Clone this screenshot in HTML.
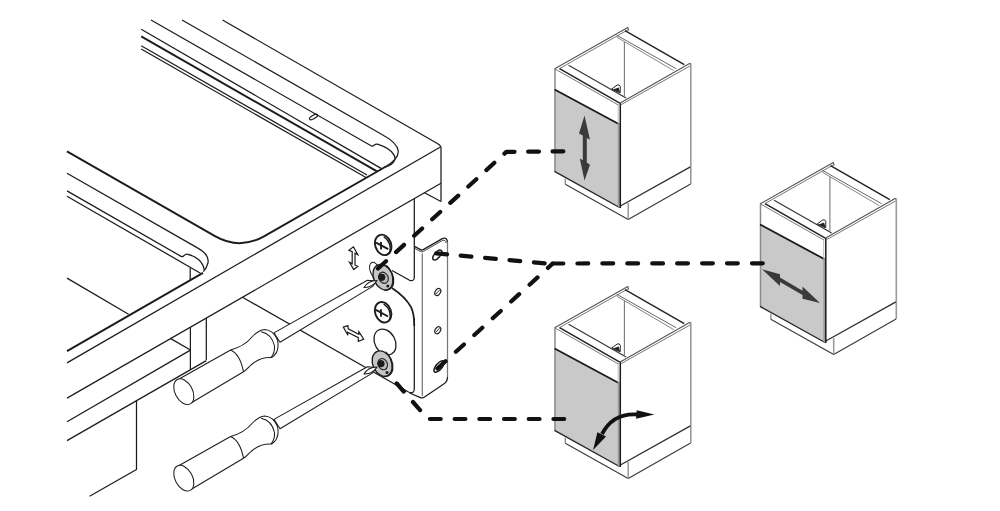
<!DOCTYPE html>
<html><head><meta charset="utf-8"><style>
html,body{margin:0;padding:0;background:#fff;width:1000px;height:511px;overflow:hidden;font-family:"Liberation Sans",sans-serif;}
svg{display:block}
</style></head><body>
<svg width="1000" height="511" viewBox="0 0 1000 511">
<rect width="1000" height="511" fill="#fff"/>
<g stroke="#1c1c1c" fill="none" stroke-width="1.25" stroke-linecap="butt" stroke-linejoin="round">
<path d="M222.5,20 L437.8,143.8 Q441,145.5 441,148 L441,201.5"/>
<path d="M440,147.2 L67,362.9"/>
<path d="M441,183.2 L67,398.1"/>
<path d="M424.5,192.8 L441,201.5"/>
<path d="M182,20 L381.5,134.3 Q413.5,151.2 384.5,167.3"/>
<path d="M151,20 L371.5,146 C373.5,147.2 374.5,143.5 377.5,144.2 C394,149.5 402.5,160.5 386,167"/>
<path d="M141.2,29.2 L381.5,168.6"/>
<path d="M141.2,36.3 L377,171.3" stroke-width="1.95"/>
<path d="M141.2,45.8 L367,175"/>
<path d="M141.2,49 L366,177.5"/>
<path d="M386,166.5 L264,236.3 Q239.5,250.1 215,236.1 L67,151.4" stroke-width="1.95"/>
<ellipse cx="313.5" cy="117" rx="4.5" ry="1.7" transform="rotate(-30 313.5 117)"/>
<path d="M67,173.2 L197,247.6 C205.5,252.2 209.5,257.5 207.8,263.5 C206.8,267 205.5,269.5 203.3,271.6"/>
<path d="M67,190.9 L181.5,256.6 C183.5,257.6 184,254 187,254.2 C196,256 203,261.5 204.2,269.8"/>
<path d="M67,196.3 L200.5,273.2"/>
<path d="M190.2,268 L190.2,280"/>
<path d="M203,272.8 L67,351.1" stroke-width="1.95"/>
<path d="M67,278.1 L128.6,314.3"/>
<path d="M190.4,327 L190.4,369"/>
<path d="M206.3,318 L206.3,360"/>
<path d="M67,440.6 L206.3,360.6"/>
<path d="M67,421.8 L190.4,350.1"/>
<path d="M170.3,338.4 L190.4,350"/>
<path d="M136.5,401 L136.5,469.5 L89.6,496.3"/>
<path d="M414.3,199 L414.3,277 Q414.3,281.5 410,280.5 L392,270.5"/>
<path d="M242.4,297.2 L408.5,392 Q414.3,394.5 414.3,388.5 L414.3,318"/>
<path d="M414.3,326 C414.3,316 413.5,312 411,307 C407,300 398,292 392,288" stroke-width="1.7"/>
<path d="M414.5,246.4 L420.5,249.6 Q421.8,250.4 423.2,249.6 L442.3,238.6 Q447.5,236.5 447.5,243"/>
<path d="M447.5,242 L447.5,377" stroke="#777"/>
<path d="M422.3,253.5 L422.3,396" stroke="#777"/>
<path d="M447.5,377 Q447.5,382 443,384.5 L424.5,397 Q422.5,398.4 420.5,397.6 L409.5,393"/>
<path d="M414.5,248.3 L420.5,251.5 Q421.8,252.3 423.2,251.5 L442.3,240.5 Q445.8,239.5 446,243" stroke-width="0.8"/>
</g>
<g fill="#fff" stroke="#1c1c1c" stroke-width="1.2">
<ellipse cx="437.3" cy="255" rx="6" ry="2.8" transform="rotate(-50 437.3 255)" stroke-width="1.5"/>
<ellipse cx="437.8" cy="292" rx="3.8" ry="2.6" transform="rotate(-60 437.8 292)"/>
<ellipse cx="437.8" cy="330.2" rx="3.8" ry="2.6" transform="rotate(-60 437.8 330.2)"/>
<path d="M436,294 L439.5,290 M436,332.2 L439.5,328.2" stroke-width="0.9"/>
<ellipse cx="439" cy="366.5" rx="7" ry="3" transform="rotate(-50 439 366.5)" stroke-width="1.6"/>
</g>
<g transform="translate(383.2 244.9)" stroke="#1c1c1c" fill="#fff"><ellipse cx="0" cy="0" rx="7.9" ry="10.5" transform="rotate(-20)" stroke-width="1.9"/><path d="M0.5,-8.3 Q9.5,-2 6.2,8.2" stroke-width="1.3" fill="none"/><path d="M-7.2,-2.3 L5,4.3 M-2.2,-3 L-2.1,4.6" stroke-width="1.9" fill="none"/></g>
<g transform="translate(383.1 312.2)" stroke="#1c1c1c" fill="#fff"><ellipse cx="0" cy="0" rx="7.9" ry="10.5" transform="rotate(-20)" stroke-width="1.9"/><path d="M0.5,-8.3 Q9.5,-2 6.2,8.2" stroke-width="1.3" fill="none"/><path d="M-7.2,-2.3 L5,4.3 M-2.2,-3 L-2.1,4.6" stroke-width="1.9" fill="none"/></g>
<ellipse cx="385" cy="342" rx="10.2" ry="13.6" transform="rotate(-28 385 342)" fill="#fff" stroke="#1c1c1c" stroke-width="1.3"/>
<ellipse cx="375" cy="270.5" rx="4.8" ry="8.6" transform="rotate(-22 375 270.5)" fill="#fff" stroke="#1c1c1c" stroke-width="1"/>
<g transform="translate(383.3 277.3)" stroke="#1c1c1c"><ellipse cx="0" cy="0" rx="9.6" ry="13.4" transform="rotate(-25)" fill="#c6c6c6" stroke-width="1.4"/><path d="M3,-12 Q10,-6 9.5,5 Q8,13 1,13" fill="none" stroke-width="1.2"/><ellipse cx="0" cy="0.5" rx="4.6" ry="5.8" transform="rotate(-25)" fill="#bcbcbc" stroke="#222" stroke-width="1.1"/><circle cx="-1.5" cy="0" r="3.2" fill="#1c1c1c"/><circle cx="4.5" cy="8.8" r="1.5" fill="#1c1c1c" stroke="none"/></g>
<g transform="translate(382.5 363.7)" stroke="#1c1c1c"><ellipse cx="0" cy="0" rx="9.6" ry="13.4" transform="rotate(-25)" fill="#c6c6c6" stroke-width="1.4"/><path d="M3,-12 Q10,-6 9.5,5 Q8,13 1,13" fill="none" stroke-width="1.2"/><ellipse cx="0" cy="0.5" rx="4.6" ry="5.8" transform="rotate(-25)" fill="#bcbcbc" stroke="#222" stroke-width="1.1"/><circle cx="-1.5" cy="0" r="3.2" fill="#1c1c1c"/><circle cx="4.5" cy="8.8" r="1.5" fill="#1c1c1c" stroke="none"/></g>
<g transform="translate(0 0)" stroke="#1c1c1c" stroke-width="1.05" fill="#fff" stroke-linejoin="round"><path d="M274,332.9 L367.4,280.2 L376.2,281.1 L372.7,286.4 L280,342.3 Z"/><path d="M364,287.5 Q368,280.5 377,280.5 Q372,288 364,287.5 Z" fill="#fff"/><path d="M179.1,379 L230.6,350 C240,347.5 247,343 252,337 C256,332.5 259.5,329.8 264.7,329.4 Q273.5,330 277.5,340 Q280,352 271.7,357.6 C262,357 256,360.5 251,365 C248,368 246,370.5 243.5,371.7 L191.4,402.8 Z"/><path d="M230.6,350 Q240,354 243.5,371.7" fill="none"/><path d="M261.1,331.7 Q272,334 274.5,346 Q275,353 271,357.5" fill="none"/><ellipse cx="183.8" cy="391.7" rx="13.8" ry="8.7" transform="rotate(62 183.8 391.7)"/></g>
<g transform="translate(0 86.5)" stroke="#1c1c1c" stroke-width="1.05" fill="#fff" stroke-linejoin="round"><path d="M274,332.9 L367.4,280.2 L376.2,281.1 L372.7,286.4 L280,342.3 Z"/><path d="M364,287.5 Q368,280.5 377,280.5 Q372,288 364,287.5 Z" fill="#fff"/><path d="M179.1,379 L230.6,350 C240,347.5 247,343 252,337 C256,332.5 259.5,329.8 264.7,329.4 Q273.5,330 277.5,340 Q280,352 271.7,357.6 C262,357 256,360.5 251,365 C248,368 246,370.5 243.5,371.7 L191.4,402.8 Z"/><path d="M230.6,350 Q240,354 243.5,371.7" fill="none"/><path d="M261.1,331.7 Q272,334 274.5,346 Q275,353 271,357.5" fill="none"/><ellipse cx="183.8" cy="391.7" rx="13.8" ry="8.7" transform="rotate(62 183.8 391.7)"/></g>
<path d="M353.4,246.8 L357.8,254.7 L355,253.2 L355,265.2 L357.8,266.4 L353.7,269.5 L349.6,262.3 L352.2,263.8 L352.2,251.6 L348.9,250.3 Z" fill="#fff" stroke="#1c1c1c" stroke-width="1.2" stroke-linejoin="miter"/>
<path d="M343.3,327.1 L347.9,325.6 L348.2,328.8 L358.8,334.2 L358.9,331.7 L363.7,339.3 L358.3,341.4 L358.3,337.6 L347.7,332.3 L347.9,335.3 Z" fill="#fff" stroke="#1c1c1c" stroke-width="1.2" stroke-linejoin="miter"/>

<g class="cab" stroke-linejoin="round" fill="none">
 <polygon points="619,102.5 690.4,63.2 690.4,167 619.5,207.5" fill="#fff" stroke="none"/>
 <polygon points="690.4,167 690.4,184 628.2,219.5 565.3,184.2 565.3,178.8 619.5,207.5" fill="#fff" stroke="none"/>
 <line x1="690.8" y1="63.5" x2="690.8" y2="184" stroke="#9a9a9a" stroke-width="1.6"/>
 <path d="M690.6,184 L628.2,219.5 L565.3,184.2" stroke="#3c3c3c" stroke-width="1.2"/>
 <line x1="565.3" y1="178.8" x2="565.3" y2="184.2" stroke="#888" stroke-width="1.3"/>
 <path d="M619.5,206.5 L690.4,166.9" stroke="#2e2e2e" stroke-width="1.3"/>
 <line x1="628.2" y1="203" x2="628.2" y2="219.5" stroke="#999" stroke-width="1.5"/>
 <polygon points="554.7,68.5 619,102.5 619.2,124.3 554.6,90" fill="#fff" stroke="none"/>
 <polygon points="554.6,90 619.2,124.3 619.5,207.5 554.5,171.4" fill="#c9c9c9" stroke="none"/>
 <line x1="555" y1="68.5" x2="555" y2="171.6" stroke="#8a8a8a" stroke-width="1.5"/>
 <line x1="554.6" y1="89.5" x2="619.2" y2="124.3" stroke="#1a1a1a" stroke-width="1.8"/>
 <line x1="554.5" y1="171.4" x2="619.5" y2="207.5" stroke="#262626" stroke-width="1.4"/>
 <rect x="617.8" y="123.5" width="1.9" height="84" fill="#9a9a9a"/>
 <line x1="618.2" y1="104.5" x2="618.2" y2="124" stroke="#aaa" stroke-width="0.8"/>
 <line x1="620.3" y1="103" x2="620.3" y2="208" stroke="#1a1a1a" stroke-width="1.5"/>
 <!-- top -->
 <polygon points="627.8,27.4 554.7,68.5 619,102.5 690.4,63.2" fill="#fff" stroke="none"/>
 <path d="M554.7,68.8 L627.8,27.4 L628.6,30.5" stroke="#555" stroke-width="1.1"/>
 <line x1="559.5" y1="68.6" x2="628" y2="29.8" stroke="#777" stroke-width="1"/>
 <line x1="554.7" y1="68.8" x2="618.4" y2="105" stroke="#777" stroke-width="1"/>
 <line x1="559.5" y1="68.6" x2="619.8" y2="103.2" stroke="#222" stroke-width="1.5"/>
 <path d="M620.2,103 L689.6,63.4 L690.6,64" stroke="#555" stroke-width="1.1"/>
 <line x1="621.2" y1="104.6" x2="690" y2="66" stroke="#777" stroke-width="1"/>
 <line x1="568.6" y1="65.3" x2="626.1" y2="98" stroke="#333" stroke-width="1.1"/>
 <line x1="616.8" y1="35.3" x2="676.1" y2="68.7" stroke="#555" stroke-width="0.9"/>
 <line x1="616.8" y1="37.2" x2="673.7" y2="70.6" stroke="#777" stroke-width="0.9"/>
 <line x1="625" y1="30.6" x2="684.3" y2="64.6" stroke="#222" stroke-width="1.4"/>
 <line x1="624.4" y1="42" x2="624.4" y2="96" stroke="#777" stroke-width="1.1"/>
 <path d="M611.5,89.2 L617.2,85 Q619.6,84 620.3,86.5 L620.2,92.8 Z" fill="#fff" stroke="#222" stroke-width="1"/>
 <path d="M613,89.6 L618.6,87.6 L620,92.6 Z" fill="#222"/>
</g>
<g transform="translate(205.5 135)">
<g class="cab" stroke-linejoin="round" fill="none">
 <polygon points="619,102.5 690.4,63.2 690.4,167 619.5,207.5" fill="#fff" stroke="none"/>
 <polygon points="690.4,167 690.4,184 628.2,219.5 565.3,184.2 565.3,178.8 619.5,207.5" fill="#fff" stroke="none"/>
 <line x1="690.8" y1="63.5" x2="690.8" y2="184" stroke="#9a9a9a" stroke-width="1.6"/>
 <path d="M690.6,184 L628.2,219.5 L565.3,184.2" stroke="#3c3c3c" stroke-width="1.2"/>
 <line x1="565.3" y1="178.8" x2="565.3" y2="184.2" stroke="#888" stroke-width="1.3"/>
 <path d="M619.5,206.5 L690.4,166.9" stroke="#2e2e2e" stroke-width="1.3"/>
 <line x1="628.2" y1="203" x2="628.2" y2="219.5" stroke="#999" stroke-width="1.5"/>
 <polygon points="554.7,68.5 619,102.5 619.2,124.3 554.6,90" fill="#fff" stroke="none"/>
 <polygon points="554.6,90 619.2,124.3 619.5,207.5 554.5,171.4" fill="#c9c9c9" stroke="none"/>
 <line x1="555" y1="68.5" x2="555" y2="171.6" stroke="#8a8a8a" stroke-width="1.5"/>
 <line x1="554.6" y1="89.5" x2="619.2" y2="124.3" stroke="#1a1a1a" stroke-width="1.8"/>
 <line x1="554.5" y1="171.4" x2="619.5" y2="207.5" stroke="#262626" stroke-width="1.4"/>
 <rect x="617.8" y="123.5" width="1.9" height="84" fill="#9a9a9a"/>
 <line x1="618.2" y1="104.5" x2="618.2" y2="124" stroke="#aaa" stroke-width="0.8"/>
 <line x1="620.3" y1="103" x2="620.3" y2="208" stroke="#1a1a1a" stroke-width="1.5"/>
 <!-- top -->
 <polygon points="627.8,27.4 554.7,68.5 619,102.5 690.4,63.2" fill="#fff" stroke="none"/>
 <path d="M554.7,68.8 L627.8,27.4 L628.6,30.5" stroke="#555" stroke-width="1.1"/>
 <line x1="559.5" y1="68.6" x2="628" y2="29.8" stroke="#777" stroke-width="1"/>
 <line x1="554.7" y1="68.8" x2="618.4" y2="105" stroke="#777" stroke-width="1"/>
 <line x1="559.5" y1="68.6" x2="619.8" y2="103.2" stroke="#222" stroke-width="1.5"/>
 <path d="M620.2,103 L689.6,63.4 L690.6,64" stroke="#555" stroke-width="1.1"/>
 <line x1="621.2" y1="104.6" x2="690" y2="66" stroke="#777" stroke-width="1"/>
 <line x1="568.6" y1="65.3" x2="626.1" y2="98" stroke="#333" stroke-width="1.1"/>
 <line x1="616.8" y1="35.3" x2="676.1" y2="68.7" stroke="#555" stroke-width="0.9"/>
 <line x1="616.8" y1="37.2" x2="673.7" y2="70.6" stroke="#777" stroke-width="0.9"/>
 <line x1="625" y1="30.6" x2="684.3" y2="64.6" stroke="#222" stroke-width="1.4"/>
 <line x1="624.4" y1="42" x2="624.4" y2="96" stroke="#777" stroke-width="1.1"/>
 <path d="M611.5,89.2 L617.2,85 Q619.6,84 620.3,86.5 L620.2,92.8 Z" fill="#fff" stroke="#222" stroke-width="1"/>
 <path d="M613,89.6 L618.6,87.6 L620,92.6 Z" fill="#222"/>
</g></g>
<g transform="translate(0 259)">
<g class="cab" stroke-linejoin="round" fill="none">
 <polygon points="619,102.5 690.4,63.2 690.4,167 619.5,207.5" fill="#fff" stroke="none"/>
 <polygon points="690.4,167 690.4,184 628.2,219.5 565.3,184.2 565.3,178.8 619.5,207.5" fill="#fff" stroke="none"/>
 <line x1="690.8" y1="63.5" x2="690.8" y2="184" stroke="#9a9a9a" stroke-width="1.6"/>
 <path d="M690.6,184 L628.2,219.5 L565.3,184.2" stroke="#3c3c3c" stroke-width="1.2"/>
 <line x1="565.3" y1="178.8" x2="565.3" y2="184.2" stroke="#888" stroke-width="1.3"/>
 <path d="M619.5,206.5 L690.4,166.9" stroke="#2e2e2e" stroke-width="1.3"/>
 <line x1="628.2" y1="203" x2="628.2" y2="219.5" stroke="#999" stroke-width="1.5"/>
 <polygon points="554.7,68.5 619,102.5 619.2,124.3 554.6,90" fill="#fff" stroke="none"/>
 <polygon points="554.6,90 619.2,124.3 619.5,207.5 554.5,171.4" fill="#c9c9c9" stroke="none"/>
 <line x1="555" y1="68.5" x2="555" y2="171.6" stroke="#8a8a8a" stroke-width="1.5"/>
 <line x1="554.6" y1="89.5" x2="619.2" y2="124.3" stroke="#1a1a1a" stroke-width="1.8"/>
 <line x1="554.5" y1="171.4" x2="619.5" y2="207.5" stroke="#262626" stroke-width="1.4"/>
 <rect x="617.8" y="123.5" width="1.9" height="84" fill="#9a9a9a"/>
 <line x1="618.2" y1="104.5" x2="618.2" y2="124" stroke="#aaa" stroke-width="0.8"/>
 <line x1="620.3" y1="103" x2="620.3" y2="208" stroke="#1a1a1a" stroke-width="1.5"/>
 <!-- top -->
 <polygon points="627.8,27.4 554.7,68.5 619,102.5 690.4,63.2" fill="#fff" stroke="none"/>
 <path d="M554.7,68.8 L627.8,27.4 L628.6,30.5" stroke="#555" stroke-width="1.1"/>
 <line x1="559.5" y1="68.6" x2="628" y2="29.8" stroke="#777" stroke-width="1"/>
 <line x1="554.7" y1="68.8" x2="618.4" y2="105" stroke="#777" stroke-width="1"/>
 <line x1="559.5" y1="68.6" x2="619.8" y2="103.2" stroke="#222" stroke-width="1.5"/>
 <path d="M620.2,103 L689.6,63.4 L690.6,64" stroke="#555" stroke-width="1.1"/>
 <line x1="621.2" y1="104.6" x2="690" y2="66" stroke="#777" stroke-width="1"/>
 <line x1="568.6" y1="65.3" x2="626.1" y2="98" stroke="#333" stroke-width="1.1"/>
 <line x1="616.8" y1="35.3" x2="676.1" y2="68.7" stroke="#555" stroke-width="0.9"/>
 <line x1="616.8" y1="37.2" x2="673.7" y2="70.6" stroke="#777" stroke-width="0.9"/>
 <line x1="625" y1="30.6" x2="684.3" y2="64.6" stroke="#222" stroke-width="1.4"/>
 <line x1="624.4" y1="42" x2="624.4" y2="96" stroke="#777" stroke-width="1.1"/>
 <path d="M611.5,89.2 L617.2,85 Q619.6,84 620.3,86.5 L620.2,92.8 Z" fill="#fff" stroke="#222" stroke-width="1"/>
 <path d="M613,89.6 L618.6,87.6 L620,92.6 Z" fill="#222"/>
</g></g>
<polygon points="584.5,115.5 590,139.8 586.8,138 586.8,162.5 590,164.7 584.5,180.5 579.8,158.4 582.8,160.3 582.8,135.5 579,133.4" fill="#3a3a3a"/>
<polygon points="762,269.3 780,274.2 780,277.6 802.5,290.7 802.5,286.4 820,303.1 802.5,298.7 802.5,295.1 780,282 780,286" fill="#3a3a3a"/>
<path d="M637,414.5 Q613,413 602,434" fill="none" stroke="#111" stroke-width="3.8"/>
<polygon points="654.4,414.5 636.7,410.2 636.1,418.8" fill="#111"/>
<polygon points="593.1,450 597.4,432.3 606,436.6" fill="#111"/>
<path d="M378,268.5 L506.4,151.9 L565,151.3" fill="none" stroke="#111" stroke-width="4.2" stroke-linecap="round" stroke-linejoin="round" stroke-dasharray="10.8 13.6"/>
<path d="M552.5,263.5 L763,263.3" fill="none" stroke="#111" stroke-width="4.2" stroke-linecap="round" stroke-linejoin="round" stroke-dasharray="10.8 14.13"/>
<path d="M436.3,253.4 L549,263.8" fill="none" stroke="#111" stroke-width="4.2" stroke-linecap="round" stroke-linejoin="round" stroke-dasharray="10.8 13.7"/>
<path d="M437.5,368.5 L552.5,263.8" fill="none" stroke="#111" stroke-width="4.2" stroke-linecap="round" stroke-linejoin="round" stroke-dasharray="10.8 14.1"/>
<path d="M396.7,383.4 L427.8,419 L564.2,419" fill="none" stroke="#111" stroke-width="4.2" stroke-linecap="round" stroke-linejoin="round" stroke-dasharray="10.8 13.9"/>
</svg>
</body></html>
